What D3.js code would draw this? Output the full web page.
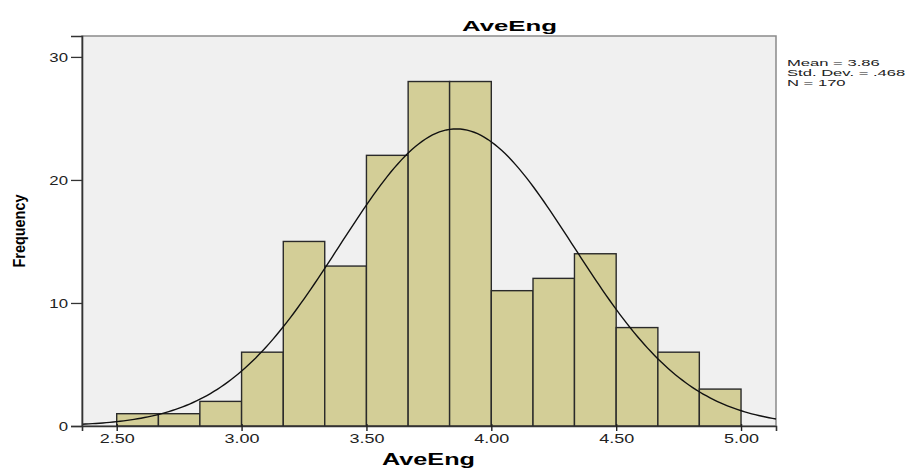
<!DOCTYPE html>
<html>
<head>
<meta charset="utf-8">
<script src="https://cdn.jsdelivr.net/npm/d3@7"></script>
<style>
  body { margin: 0; background: #fff; }
  svg { display: block; font-family: "Liberation Sans", Arial, sans-serif; }
</style>
</head>
<body>
<div class="chart"></div>
<script>
// histogram data
const binEdges = [2.50, 2.667, 2.833, 3.00, 3.167, 3.333, 3.50, 3.667, 3.833, 4.00, 4.167, 4.333, 4.50, 4.667, 4.833, 5.00];
const counts = [1, 1, 2, 6, 15, 13, 22, 28, 28, 11, 12, 14, 8, 6, 3];
const xTicks = [2.5, 3.0, 3.5, 4.0, 4.5, 5.0];
const yTicks = [0, 10, 20, 30];
const mean = 3.86, sd = 0.468, n = 170;
const statLines = ["Mean = 3.86", "Std. Dev. = .468", "N = 170"];

const width = 917, height = 468;
const plotL = 82, plotR = 776, plotT = 36, plotB = 426;

const svg = d3.select('.chart').append('svg')
  .attr('width', width)
  .attr('height', height);

const x = d3.scaleLinear().domain([2.361, 5.140]).range([plotL, plotR]);
const y = d3.scaleLinear().domain([0, 31.7]).range([plotB, plotT]);

// plot background + frame
svg.append('rect')
  .attr('x', plotL).attr('y', plotT)
  .attr('width', plotR - plotL).attr('height', plotB - plotT)
  .attr('fill', '#f0f0f0')
  .attr('stroke', '#8a8a8a')
  .attr('stroke-width', 1.5);

// bars
const bins = counts.map((c, i) => ({ x0: binEdges[i], x1: binEdges[i + 1], c: c }));
svg.append('g').selectAll('rect')
  .data(bins)
  .enter()
  .append('rect')
  .attr('x', d => x(d.x0))
  .attr('y', d => y(d.c))
  .attr('width', d => x(d.x1) - x(d.x0))
  .attr('height', d => y(0) - y(d.c))
  .attr('fill', '#d3ce97')
  .attr('stroke', '#2a2a2a')
  .attr('stroke-width', 1.4);

// fitted normal curve (scaled to counts, bin width 1/6)
const binW = 1 / 6;
const pdf = v => n * binW / (sd * Math.sqrt(2 * Math.PI)) * Math.exp(-0.5 * Math.pow((v - mean) / sd, 2));
const curvePts = d3.range(0, 201).map(i => {
  const v = x.domain()[0] + (x.domain()[1] - x.domain()[0]) * i / 200;
  return [v, pdf(v)];
});
svg.append('path')
  .datum(curvePts)
  .attr('fill', 'none')
  .attr('stroke', '#111')
  .attr('stroke-width', 1.4)
  .attr('d', d3.line().x(d => x(d[0])).y(d => y(d[1])));

// y axis
const yAxisG = svg.append('g')
  .attr('transform', `translate(${plotL},0)`)
  .call(d3.axisLeft(y).tickValues(yTicks).tickSize(11).tickFormat(d3.format('d')));
yAxisG.select('.domain').attr('stroke', '#333').attr('stroke-width', 1.6);
yAxisG.selectAll('.tick line').attr('stroke', '#333').attr('stroke-width', 1.3);
yAxisG.selectAll('.tick text')
  .attr('x', 0).attr('dy', '0.35em')
  .attr('transform', 'translate(-14,0) scale(1.4,1)')
  .attr('font-size', 12).attr('fill', '#222')
  .attr('font-family', '"Liberation Sans", Arial, sans-serif');

// x axis
const xAxisG = svg.append('g')
  .attr('transform', `translate(0,${plotB})`)
  .call(d3.axisBottom(x).tickValues(xTicks).tickSize(5).tickFormat(d3.format('.2f')));
xAxisG.select('.domain').attr('stroke', '#333').attr('stroke-width', 1.6);
xAxisG.selectAll('.tick line').attr('stroke', '#222').attr('stroke-width', 1.4).attr('y1', -2);
xAxisG.selectAll('.tick text')
  .attr('y', 17).attr('dy', 0)
  .attr('transform', 'scale(1.5,1)')
  .attr('font-size', 12).attr('fill', '#222')
  .attr('font-family', '"Liberation Sans", Arial, sans-serif');

// title
svg.append('text')
  .attr('x', 462).attr('y', 31)
  .attr('font-size', 15.5).attr('font-weight', 'bold')
  .attr('textLength', 95).attr('lengthAdjust', 'spacingAndGlyphs')
  .text('AveEng');

// x label
svg.append('text')
  .attr('x', 382).attr('y', 465)
  .attr('font-size', 16).attr('font-weight', 'bold')
  .attr('textLength', 93).attr('lengthAdjust', 'spacingAndGlyphs')
  .text('AveEng');

// y label
svg.append('text')
  .attr('transform', 'translate(25,231) rotate(-90)')
  .attr('text-anchor', 'middle')
  .attr('font-size', 16).attr('font-weight', 'bold')
  .attr('textLength', 73).attr('lengthAdjust', 'spacingAndGlyphs')
  .text('Frequency');

// stats legend
svg.append('g').selectAll('text')
  .data(statLines)
  .enter()
  .append('text')
  .attr('x', 0)
  .attr('y', 0)
  .attr('transform', (d, i) => `translate(787,${66 + i * 9.8}) scale(1.75,1)`)
  .attr('font-size', 9.5)
  .attr('fill', '#222')
  .text(d => d);
</script>
</body>
</html>
